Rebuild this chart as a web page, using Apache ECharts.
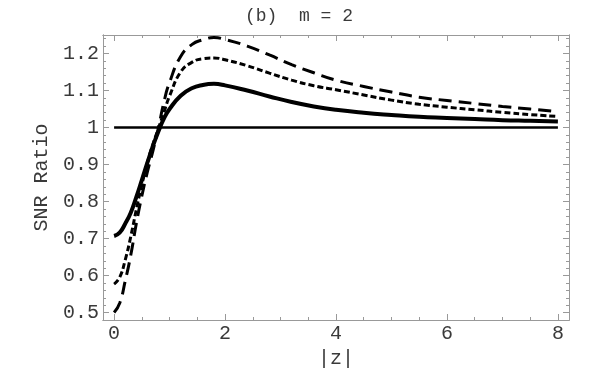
<!DOCTYPE html>
<html>
<head>
<meta charset="utf-8">
<script src="https://cdn.jsdelivr.net/npm/echarts@6/dist/echarts.min.js"></script>
<style>
html, body { margin: 0; padding: 0; background: #fff; }
#chart { width: 600px; height: 371px; }
</style>
</head>
<body>
<div id="chart"></div>
<script>
var chart = echarts.init(document.getElementById('chart'));

// |z| sample points
var zVals = [0, 0.1, 0.2, 0.3, 0.4, 0.5, 0.6, 0.7, 0.8, 0.9, 1.0, 1.2, 1.4, 1.6, 1.8, 2.0,
  2.4, 2.8, 3.2, 3.6, 4.0, 4.5, 5.0, 5.5, 6.0, 6.5, 7.0, 7.5, 8.0];
var solidVals = [0.707, 0.716, 0.740, 0.770, 0.812, 0.858, 0.905, 0.950, 0.990, 1.025, 1.050,
  1.086, 1.106, 1.115, 1.118, 1.114, 1.100, 1.084, 1.069, 1.057, 1.048, 1.040, 1.034,
  1.029, 1.026, 1.023, 1.020, 1.018, 1.016];
var dottedVals = [0.577, 0.595, 0.642, 0.705, 0.778, 0.845, 0.905, 0.955, 0.998, 1.042, 1.085,
  1.150, 1.176, 1.186, 1.188, 1.183, 1.167, 1.147, 1.128, 1.113, 1.102, 1.088, 1.074,
  1.063, 1.055, 1.048, 1.041, 1.035, 1.030];
var dashedVals = [0.500, 0.525, 0.585, 0.655, 0.740, 0.815, 0.880, 0.937, 1.000, 1.070, 1.122,
  1.192, 1.224, 1.237, 1.243, 1.238, 1.220, 1.196, 1.170, 1.148, 1.128, 1.111, 1.096,
  1.082, 1.073, 1.065, 1.057, 1.050, 1.043];
var refZ = [0, 8];
var refVals = [1, 1];

var xMajor = [0, 2, 4, 6, 8];
var xMinor = [0.5, 1, 1.5, 2.5, 3, 3.5, 4.5, 5, 5.5, 6.5, 7, 7.5];
var yMajor = [0.5, 0.6, 0.7, 0.8, 0.9, 1, 1.1, 1.2];
var yMinor = [];
for (var v = 50; v <= 124; v += 2) {
  if (v % 10 !== 0) yMinor.push(v / 100);
}

function pairs(xs, ys) {
  return xs.map(function (x, i) { return [x, ys[i]]; });
}

var font = 'Liberation Mono';
var textColor = '#3a3a3a';
var frameColor = '#999';

function xAx(pos, ticks, len, labels, name) {
  return {
    type: 'value', position: pos, min: -0.2, max: 8.2,
    name: name || '', nameLocation: 'middle', nameGap: 28,
    nameTextStyle: { fontFamily: font, fontSize: 20, color: textColor },
    splitLine: { show: false },
    axisLine: { show: true, onZero: false, lineStyle: { color: frameColor, width: 1 } },
    axisTick: { show: true, inside: true, length: len, customValues: ticks, lineStyle: { color: frameColor } },
    axisLabel: labels ? { show: true, customValues: ticks, fontFamily: font, fontSize: 20, color: textColor, margin: 4 } : { show: false }
  };
}
function yAx(pos, ticks, len, labels, name) {
  return {
    type: 'value', position: pos, min: 0.48, max: 1.25,
    name: name || '', nameLocation: 'middle', nameGap: 50,
    nameTextStyle: { fontFamily: font, fontSize: 20, color: textColor },
    splitLine: { show: false },
    axisLine: { show: true, onZero: false, lineStyle: { color: frameColor, width: 1 } },
    axisTick: { show: true, inside: true, length: len, customValues: ticks, lineStyle: { color: frameColor } },
    axisLabel: labels ? {
      show: true, customValues: ticks, fontFamily: font, fontSize: 20, color: textColor, margin: 4,
      formatter: function (val) { return String(Math.round(val * 10) / 10); }
    } : { show: false }
  };
}

var option = {
  animation: false,
  backgroundColor: '#fff',
  title: {
    text: '(b)  m = 2', left: 240, top: 2,
    textStyle: { fontFamily: font, fontSize: 18, fontWeight: 'normal', color: textColor }
  },
  grid: { left: 103, right: 31, top: 35, bottom: 51, containLabel: false, outerBoundsMode: 'none' },
  xAxis: [
    xAx('bottom', xMajor, 6, true, '|z|'),
    xAx('bottom', xMinor, 3, false),
    xAx('top', xMajor, 6, false),
    xAx('top', xMinor, 3, false)
  ],
  yAxis: [
    yAx('left', yMajor, 6, true, 'SNR Ratio'),
    yAx('left', yMinor, 3, false),
    yAx('right', yMajor, 6, false),
    yAx('right', yMinor, 3, false)
  ],
  series: [
    {
      type: 'line', data: pairs(refZ, refVals), showSymbol: false,
      lineStyle: { color: '#000', width: 2.5 }
    },
    {
      type: 'line', data: pairs(zVals, solidVals), smooth: true, showSymbol: false,
      lineStyle: { color: '#000', width: 4 }
    },
    {
      type: 'line', data: pairs(zVals, dottedVals), smooth: true, showSymbol: false,
      lineStyle: { color: '#000', width: 3, type: [6, 3] }
    },
    {
      type: 'line', data: pairs(zVals, dashedVals), smooth: true, showSymbol: false,
      lineStyle: { color: '#000', width: 3, type: [13, 7] }
    }
  ]
};

chart.setOption(option);
</script>
</body>
</html>
